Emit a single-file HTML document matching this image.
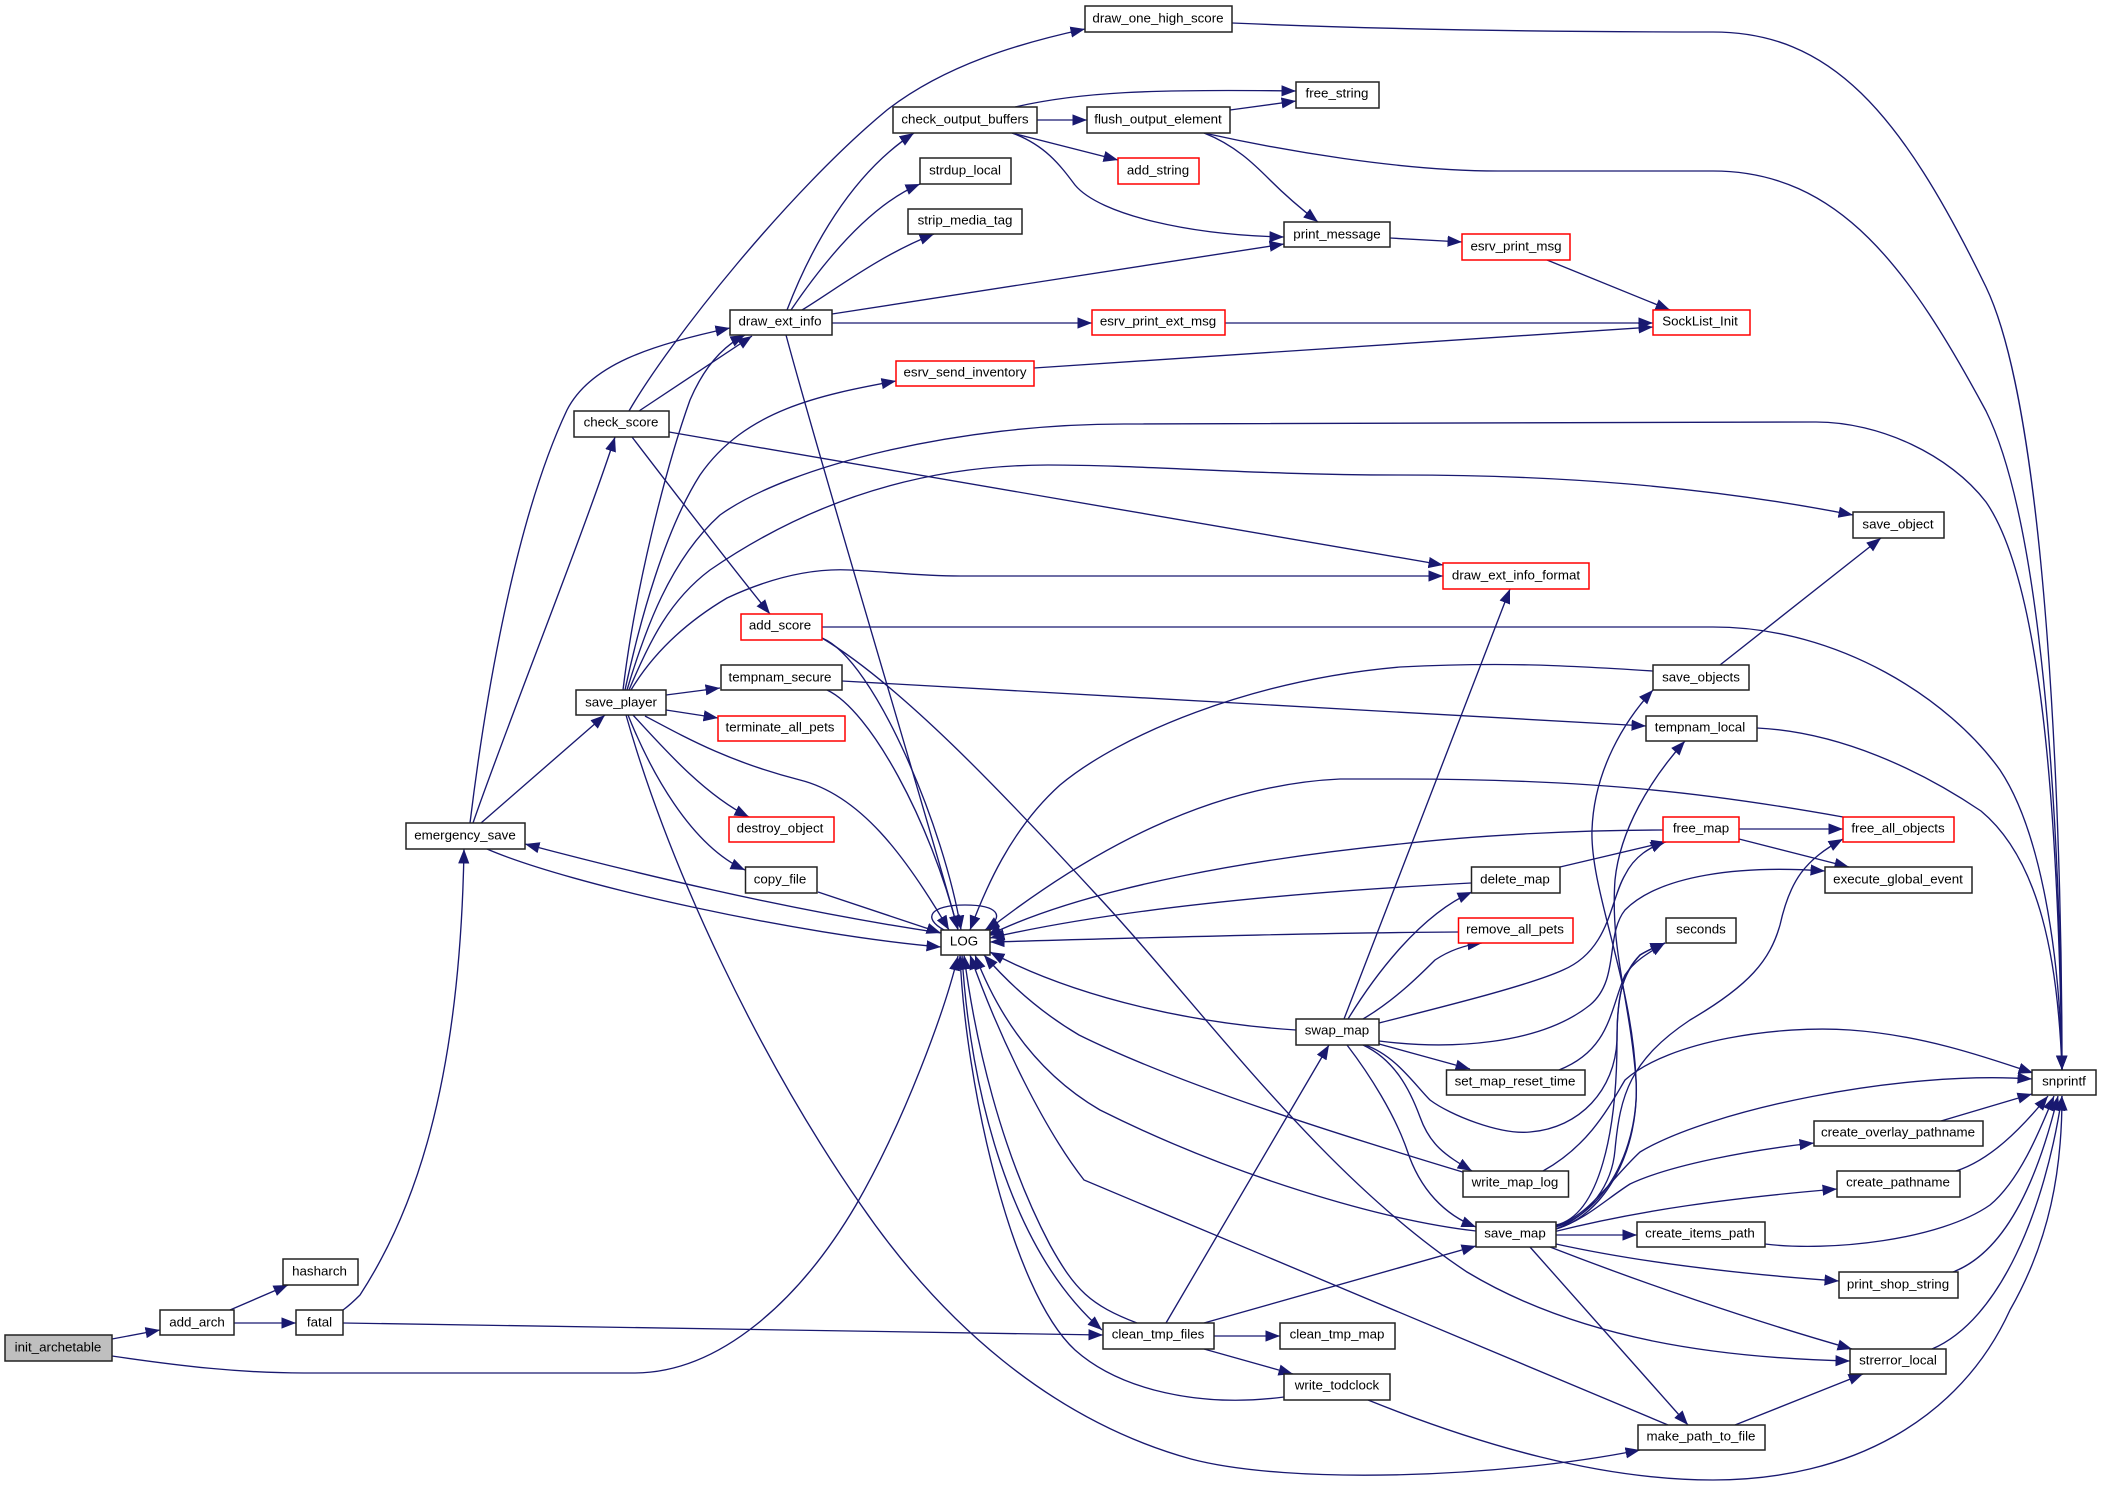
<!DOCTYPE html>
<html><head><meta charset="utf-8"><title>init_archetable call graph</title>
<style>
html,body{margin:0;padding:0;background:#fff;width:2101px;height:1486px;overflow:hidden}
svg{display:block}
.e path{fill:none;stroke:#191970;stroke-width:1.35;marker-end:url(#a)}
.n rect{fill:#fff;stroke:#222;stroke-width:1.5}
.n rect.r{stroke:#f00}
.n rect.g{fill:#bfbfbf}
.n text{font-family:"Liberation Sans",sans-serif;font-size:13.33px;fill:#000;text-anchor:middle;transform:translateY(-.6px)}
</style></head><body>
<svg xmlns="http://www.w3.org/2000/svg" width="2101" height="1486" viewBox="0 0 2101 1486">
<defs><marker id="a" markerUnits="userSpaceOnUse" markerWidth="16" markerHeight="13" refX="14.500" refY="6" orient="auto"><path d="M0,0.400 L14.500,6 L0,11.600 Z" fill="#191970"/></marker></defs>
<g class="e">
<path d="M112,1339 L160,1330"/>
<path d="M112,1356 C180,1366 240,1373 304,1373 L634,1373 C720,1373 800,1300 856,1205 C905,1120 945,1010 958,956"/>
<path d="M230,1310 L288,1285"/>
<path d="M234,1323 L296,1323"/>
<path d="M343,1310 C350,1305 355,1300 360,1295 C412,1215 460,1090 464,849"/>
<path d="M343,1323 L1103,1335"/>
<path d="M470,823 C485,700 515,520 567,410 C590,365 650,345 730,328"/>
<path d="M473,823 C505,730 585,530 615,437"/>
<path d="M481,823 L605,715"/>
<path d="M487,849 C570,885 800,935 941,947"/>
<path d="M941,933 C820,915 680,885 525,844"/>
<path d="M639,411 L752,336"/>
<path d="M629,411 C670,340 790,190 887,110 C945,65 1020,43 1085,29"/>
<path d="M632,437 C665,480 730,565 770,614"/>
<path d="M669,432 L1443,565"/>
<path d="M623,690 C635,590 665,470 690,400 C705,365 725,345 745,335"/>
<path d="M625,690 C640,620 665,530 700,475 C745,410 820,395 896,381"/>
<path d="M627,690 C645,630 670,560 720,515 C790,465 960,424 1124,424 L1816,422 C1880,422 1950,455 1986,502 C2040,580 2058,800 2062,1070"/>
<path d="M629,690 C650,640 670,600 710,570 C790,515 900,465 1048,465 C1150,465 1250,475 1400,475 C1550,475 1700,485 1853,515"/>
<path d="M631,690 C655,650 690,620 727,598 C770,578 810,568 850,570 C890,572 920,576 960,576 L1443,576"/>
<path d="M666,695 L720,688"/>
<path d="M666,710 L718,718"/>
<path d="M633,715 C665,750 705,795 749,817"/>
<path d="M628,715 C650,770 690,845 745,870"/>
<path d="M626,715 C670,870 760,1060 861,1205 C940,1320 1050,1420 1191,1459 C1290,1485 1500,1478 1640,1450"/>
<path d="M645,716 C690,740 730,762 800,780 C860,795 905,855 949,930"/>
<path d="M818,892 L941,933"/>
<path d="M786,335 C825,480 940,860 958,930"/>
<path d="M822,638 C875,660 945,830 961,930"/>
<path d="M827,690 C870,710 930,820 958,930"/>
<path d="M822,627 L1713,627 C1840,627 1950,700 2000,770 C2040,830 2060,950 2062,1070"/>
<path d="M822,638 C900,685 1000,790 1093,891 C1200,1005 1320,1175 1467,1272 C1580,1340 1720,1358 1850,1361"/>
<path d="M842,681 L1646,726"/>
<path d="M787,310 C810,250 850,175 914,133"/>
<path d="M791,310 C825,260 870,205 920,184"/>
<path d="M802,310 C835,290 880,255 934,234"/>
<path d="M832,314 L1284,244"/>
<path d="M832,323 L1092,323"/>
<path d="M1225,323 L1653,323"/>
<path d="M1034,368 L1653,327"/>
<path d="M1547,260 L1670,310"/>
<path d="M1390,238 L1462,242"/>
<path d="M1015,107 C1080,92 1150,89 1296,91"/>
<path d="M1037,120 L1087,120"/>
<path d="M1012,133 L1118,160"/>
<path d="M1012,133 C1045,145 1060,165 1075,185 C1100,215 1190,235 1284,237"/>
<path d="M1230,110 L1296,101"/>
<path d="M1204,133 C1235,145 1255,165 1270,180 C1285,195 1300,208 1318,222"/>
<path d="M1232,23 C1350,28 1500,32 1713,32 C1830,32 1900,110 1986,287 C2045,410 2062,800 2062,1070"/>
<path d="M1204,133 C1280,150 1400,171 1498,171 L1713,171 C1840,171 1910,270 1986,411 C2040,520 2060,800 2062,1070"/>
<path d="M1720,665 L1881,538"/>
<path d="M1653,671 C1560,665 1500,662 1400,667 C1250,680 1120,735 1060,785 C1010,830 985,890 970,930"/>
<path d="M1757,728 C1840,732 1920,770 1981,811 C2040,860 2058,960 2062,1070"/>
<path d="M1843,817 C1720,795 1600,779 1400,779 L1340,779 C1210,785 1090,850 985,932"/>
<path d="M1663,830 C1580,830 1480,835 1400,844 C1270,857 1090,885 987,936"/>
<path d="M1471,883 C1300,892 1120,908 990,938"/>
<path d="M1458,932 C1300,933 1140,938 990,942"/>
<path d="M1296,1030 C1200,1024 1080,1000 990,952"/>
<path d="M1466,1173 C1340,1135 1180,1085 1079,1035 C1040,1012 1010,985 984,955"/>
<path d="M1476,1231 C1380,1220 1230,1175 1100,1110 C1040,1075 1000,1020 975,955"/>
<path d="M1668,1425 L1084,1180 C1045,1130 1000,1040 970,955"/>
<path d="M1137,1323 C1090,1305 1075,1290 1050,1245 C1000,1150 975,1040 964,955"/>
<path d="M962,955 C970,1090 1010,1250 1102,1330"/>
<path d="M1284,1397 C1200,1408 1120,1390 1075,1350 C1010,1290 965,1080 960,955"/>
<path d="M1166,1323 L1329,1045"/>
<path d="M1204,1323 L1476,1246"/>
<path d="M1214,1336 L1280,1336"/>
<path d="M1204,1349 L1293,1374"/>
<path d="M1368,1400 C1480,1445 1600,1480 1713,1480 C1850,1480 1960,1420 2010,1310 C2050,1240 2062,1170 2062,1096"/>
<path d="M1344,1019 L1510,589"/>
<path d="M1348,1019 C1375,975 1420,915 1472,892"/>
<path d="M1363,1019 C1395,1000 1420,975 1435,960 C1450,950 1465,945 1482,943"/>
<path d="M1379,1023 C1450,1005 1530,985 1563,970 C1610,950 1610,900 1625,875 C1635,855 1650,848 1665,841"/>
<path d="M1379,1041 C1450,1050 1540,1045 1590,1005 C1620,980 1605,935 1625,910 C1660,875 1740,865 1825,871"/>
<path d="M1379,1044 L1470,1069"/>
<path d="M1365,1045 C1395,1055 1415,1085 1430,1100 C1450,1115 1500,1135 1530,1132 C1580,1128 1615,1090 1617,1040 C1617,990 1625,970 1640,955 C1648,950 1655,947 1665,943"/>
<path d="M1363,1045 C1395,1060 1410,1090 1420,1117 C1430,1145 1445,1155 1472,1171"/>
<path d="M1347,1045 C1370,1075 1395,1115 1407,1150 C1420,1190 1445,1215 1476,1227"/>
<path d="M1559,1070 C1610,1050 1610,1010 1625,975 C1635,960 1650,952 1665,943"/>
<path d="M1543,1171 C1590,1145 1610,1105 1625,1080 C1670,1040 1780,1025 1850,1030 C1920,1035 1980,1055 2033,1073"/>
<path d="M1556,1227 C1610,1210 1640,1140 1636,1079 C1632,980 1590,890 1592,830 C1594,770 1625,720 1653,690"/>
<path d="M1556,1229 C1605,1215 1640,1150 1636,1080 C1630,1000 1610,950 1615,880 C1620,830 1650,780 1685,741"/>
<path d="M1556,1225 C1600,1215 1617,1130 1617,1040 C1617,995 1622,975 1640,955 C1648,950 1655,947 1665,943"/>
<path d="M1556,1229 C1590,1215 1612,1185 1615,1150 C1620,1095 1630,1060 1690,1020 C1750,985 1770,960 1780,925 C1790,880 1805,860 1843,839"/>
<path d="M1556,1226 C1590,1215 1610,1180 1640,1152 C1710,1110 1900,1070 2032,1079"/>
<path d="M1556,1229 C1585,1220 1605,1200 1630,1184 C1670,1165 1750,1150 1814,1143"/>
<path d="M1553,1232 C1640,1210 1730,1198 1837,1189"/>
<path d="M1556,1235 L1637,1235"/>
<path d="M1556,1244 C1620,1258 1710,1272 1839,1281"/>
<path d="M1550,1247 C1640,1282 1750,1320 1852,1349"/>
<path d="M1530,1247 L1688,1425"/>
<path d="M1941,1121 L2032,1094"/>
<path d="M1956,1171 C1990,1160 2020,1130 2048,1096"/>
<path d="M1765,1244 C1830,1252 1940,1240 1990,1205 C2020,1180 2040,1130 2054,1096"/>
<path d="M1953,1272 C2010,1250 2040,1170 2058,1096"/>
<path d="M1932,1349 C2000,1320 2045,1210 2062,1096"/>
<path d="M1735,1425 L1863,1374"/>
<path d="M1739,829 L1843,829"/>
<path d="M1739,839 L1849,867"/>
<path d="M1560,867 L1666,842"/>
<path d="M944,930 C922,918 930,905 965,905 C998,905 1006,916 985,930"/>
</g>
<g class="n">
<rect class="g" x="5" y="1335" width="107" height="26"/><text x="58" y="1352">init_archetable</text>
<rect x="160" y="1310" width="74" height="25"/><text x="197" y="1327">add_arch</text>
<rect x="283" y="1259" width="75" height="26"/><text x="319.500" y="1276">hasharch</text>
<rect x="296" y="1310" width="47" height="25"/><text x="319.500" y="1327">fatal</text>
<rect x="406" y="823" width="119" height="26"/><text x="465" y="840">emergency_save</text>
<rect x="574" y="411" width="95" height="26"/><text x="621" y="427">check_score</text>
<rect x="576" y="690" width="90" height="25"/><text x="621" y="707">save_player</text>
<rect x="1085" y="6" width="147" height="26"/><text x="1158" y="23">draw_one_high_score</text>
<rect x="1296" y="82" width="83" height="26"/><text x="1337" y="98">free_string</text>
<rect x="893" y="107" width="144" height="26"/><text x="965" y="124">check_output_buffers</text>
<rect x="1087" y="107" width="143" height="26"/><text x="1158" y="124">flush_output_element</text>
<rect x="920" y="158" width="91" height="26"/><text x="965" y="175">strdup_local</text>
<rect class="r" x="1118" y="158" width="81" height="26"/><text x="1158" y="175">add_string</text>
<rect x="908" y="209" width="114" height="25"/><text x="965" y="225">strip_media_tag</text>
<rect x="1284" y="222" width="106" height="25"/><text x="1337" y="239">print_message</text>
<rect x="730" y="310" width="102" height="25"/><text x="780" y="326">draw_ext_info</text>
<rect class="r" x="1092" y="310" width="133" height="25"/><text x="1158" y="326">esrv_print_ext_msg</text>
<rect class="r" x="896" y="361" width="138" height="25"/><text x="965" y="377">esrv_send_inventory</text>
<rect class="r" x="741" y="614" width="81" height="26"/><text x="780" y="630">add_score</text>
<rect x="721" y="665" width="121" height="25"/><text x="780" y="682">tempnam_secure</text>
<rect class="r" x="718" y="716" width="127" height="25"/><text x="780" y="732">terminate_all_pets</text>
<rect class="r" x="1462" y="234" width="108" height="26"/><text x="1516" y="251">esrv_print_msg</text>
<rect class="r" x="1653" y="310" width="97" height="25"/><text x="1700" y="326">SockList_Init</text>
<rect x="1853" y="512" width="91" height="26"/><text x="1898" y="529">save_object</text>
<rect class="r" x="1443" y="563" width="146" height="26"/><text x="1516" y="580">draw_ext_info_format</text>
<rect x="1653" y="665" width="96" height="25"/><text x="1701" y="682">save_objects</text>
<rect x="1646" y="716" width="111" height="25"/><text x="1700" y="732">tempnam_local</text>
<rect class="r" x="729" y="817" width="105" height="25"/><text x="780" y="833">destroy_object</text>
<rect x="745.500" y="867" width="71.500" height="26"/><text x="780" y="884">copy_file</text>
<rect x="941" y="930" width="49" height="25"/><text x="964" y="946">LOG</text>
<rect x="1296" y="1019" width="83" height="26"/><text x="1337" y="1035">swap_map</text>
<rect x="1103" y="1323" width="111" height="26"/><text x="1158" y="1339">clean_tmp_files</text>
<rect x="1280" y="1323" width="115" height="26"/><text x="1337" y="1339">clean_tmp_map</text>
<rect x="1284" y="1374" width="106" height="26"/><text x="1337" y="1390">write_todclock</text>
<rect class="r" x="1663" y="817" width="76" height="25"/><text x="1701" y="833">free_map</text>
<rect class="r" x="1843" y="817" width="111" height="25"/><text x="1898" y="833">free_all_objects</text>
<rect x="1471.500" y="867" width="88.500" height="26"/><text x="1515" y="884">delete_map</text>
<rect x="1825" y="867" width="147" height="26"/><text x="1898" y="884">execute_global_event</text>
<rect class="r" x="1458.500" y="918" width="114.500" height="25"/><text x="1515" y="934">remove_all_pets</text>
<rect x="1666" y="918" width="70" height="25"/><text x="1701" y="934">seconds</text>
<rect x="1446.500" y="1070" width="138.500" height="25"/><text x="1515" y="1086">set_map_reset_time</text>
<rect x="2032" y="1070" width="64" height="25"/><text x="2064" y="1086">snprintf</text>
<rect x="1814" y="1121" width="169" height="25"/><text x="1898" y="1137">create_overlay_pathname</text>
<rect x="1463" y="1171" width="105.500" height="26"/><text x="1515" y="1187">write_map_log</text>
<rect x="1837" y="1171" width="123" height="26"/><text x="1898" y="1187">create_pathname</text>
<rect x="1476" y="1222" width="80" height="25"/><text x="1515" y="1238">save_map</text>
<rect x="1637" y="1222" width="128" height="25"/><text x="1700" y="1238">create_items_path</text>
<rect x="1839" y="1272" width="119" height="26"/><text x="1898" y="1289">print_shop_string</text>
<rect x="1850" y="1349" width="96" height="25"/><text x="1898" y="1365">strerror_local</text>
<rect x="1638" y="1425" width="127" height="25"/><text x="1701" y="1441">make_path_to_file</text>
</g>
</svg>
</body></html>
